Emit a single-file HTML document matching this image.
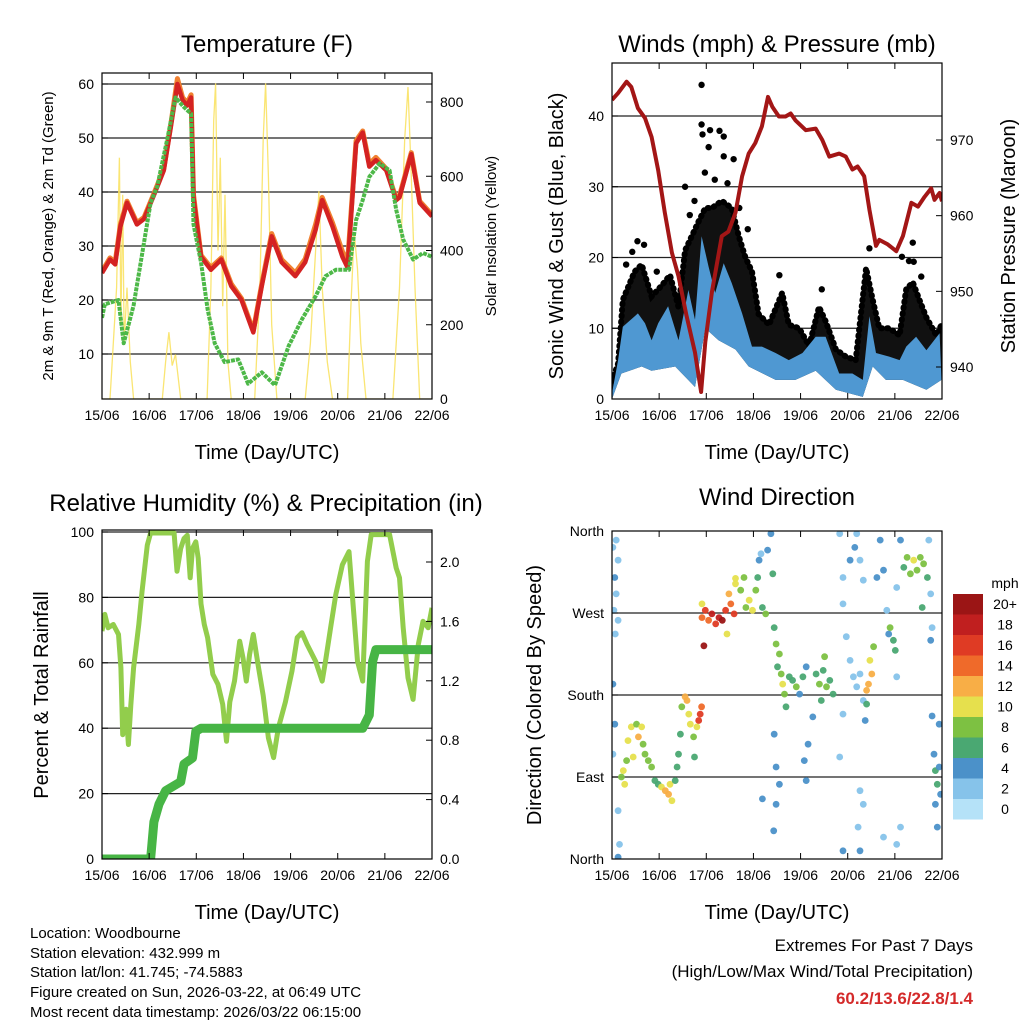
<!DOCTYPE html>
<html><head><meta charset="utf-8"><style>
html,body{margin:0;padding:0;background:#fff}
svg{display:block;font-family:"Liberation Sans",Arial,sans-serif}
</style></head><body>
<svg id="chart" width="1024" height="1024" viewBox="0 0 1024 1024" xmlns="http://www.w3.org/2000/svg">
<defs>
<clipPath id="cT"><rect x="102" y="73" width="330" height="326"/></clipPath>
<clipPath id="cW"><rect x="612" y="63" width="330" height="336"/></clipPath>
<clipPath id="cR"><rect x="102" y="530" width="330" height="329"/></clipPath>
<clipPath id="cD"><rect x="612" y="531" width="330" height="328"/></clipPath>
</defs>
<g id="layer"></g>
<text x="267" y="52" font-size="24" text-anchor="middle">Temperature (F)</text>
<text x="777" y="52" font-size="24" text-anchor="middle">Winds (mph) &amp; Pressure (mb)</text>
<text x="266" y="511" font-size="24" text-anchor="middle">Relative Humidity (%) &amp; Precipitation (in)</text>
<text x="777" y="505" font-size="24" text-anchor="middle">Wind Direction</text>
<text x="267" y="459" font-size="20" text-anchor="middle">Time (Day/UTC)</text>
<text x="777" y="459" font-size="20" text-anchor="middle">Time (Day/UTC)</text>
<text x="267" y="919" font-size="20" text-anchor="middle">Time (Day/UTC)</text>
<text x="777" y="919" font-size="20" text-anchor="middle">Time (Day/UTC)</text>
<text transform="translate(53,236) rotate(-90)" font-size="15" text-anchor="middle">2m &amp; 9m T (Red, Orange) &amp; 2m Td (Green)</text>
<text transform="translate(496,236) rotate(-90)" font-size="15" text-anchor="middle">Solar Insolation (Yellow)</text>
<text transform="translate(563,236) rotate(-90)" font-size="20" text-anchor="middle">Sonic Wind &amp; Gust (Blue, Black)</text>
<text transform="translate(1015,236) rotate(-90)" font-size="20" text-anchor="middle">Station Pressure (Maroon)</text>
<text transform="translate(48,695) rotate(-90)" font-size="20" text-anchor="middle">Percent &amp; Total Rainfall</text>
<text transform="translate(541,695) rotate(-90)" font-size="20" text-anchor="middle">Direction (Colored By Speed)</text>
<g font-size="15">
<text x="30" y="938">Location: Woodbourne</text>
<text x="30" y="958">Station elevation: 432.999 m</text>
<text x="30" y="977">Station lat/lon: 41.745; -74.5883</text>
<text x="30" y="997">Figure created on Sun, 2026-03-22, at 06:49 UTC</text>
<text x="30" y="1017">Most recent data timestamp: 2026/03/22 06:15:00</text>
</g>
<g font-size="17" text-anchor="end">
<text x="973" y="951">Extremes For Past 7 Days</text>
<text x="973" y="977">(High/Low/Max Wind/Total Precipitation)</text>
<text x="973" y="1004" fill="#d42a2a" font-weight="bold">60.2/13.6/22.8/1.4</text>
</g>
<text x="1005" y="588" font-size="14" text-anchor="middle">mph</text>
</svg>
<script>
// ---- Temperature panel data ----
const tempT=[0,.17,.28,.39,.53,.74,.89,1.1,1.31,1.46,1.6,1.71,1.81,1.89,1.94,2.1,2.31,2.53,2.74,2.96,3.21,3.39,3.6,3.81,4.1,4.31,4.53,4.67,4.89,5.1,5.21,5.39,5.53,5.67,5.81,6.03,6.24,6.31,6.56,6.74,7.0];
const tempRed=[25,27.5,26.6,33.6,38,34,35,39.4,44,52,60,57,56,57.5,39,28,25.6,27.5,22.6,20,14,22.6,31.8,27,24.4,27,33,38.5,33.6,28,26,49,51,44.7,45.9,44,38.5,39,47,38,35.5];
const tempOrange=[25.3,27.8,27,34,38.3,34.3,35.3,39.7,44.3,52.5,61,57.5,56.5,58,39.5,28.3,26,27.8,23,20.3,14.3,23,32.3,27.5,25,27.6,34,39,34.3,29,27,49.5,51.3,45.2,46.4,44.3,38.8,39.3,47.3,38.3,35.8];
const dewT=[0,.06,.35,.46,.67,1.03,1.17,1.39,1.56,1.74,1.89,1.94,2.1,2.24,2.39,2.6,2.89,3.1,3.39,3.67,3.96,4.24,4.53,4.74,4.96,5.24,5.39,5.53,5.67,5.89,6.1,6.24,6.39,6.6,6.81,7.0];
const dewVal=[16.7,19.2,20,12,19,38,41,50,57.5,55.7,54.5,34,27,18.3,12,8.5,9,4.5,6.6,4.2,11.5,16.4,20.7,24.4,25.6,25.6,34.8,38.5,42.8,45.3,44,36.7,31.2,27.5,28.7,28];
const solarT=[0,.17,.31,.37,.4,.44,.47,.53,.6,.67,1.28,1.35,1.42,1.49,1.56,1.67,2.23,2.31,2.37,2.41,2.46,2.51,2.56,2.61,2.67,2.74,3.24,3.35,3.42,3.47,3.53,3.6,3.71,4.31,4.42,4.53,4.6,4.67,4.78,4.89,5.21,5.28,5.35,5.42,5.49,5.6,6.17,6.31,6.42,6.49,6.56,6.64,6.74,7.0];
const solarVal=[0,0,300,650,200,550,150,300,100,0,0,100,180,90,120,0,0,300,750,850,400,650,250,550,100,0,0,300,700,850,600,200,0,0,150,400,560,300,100,0,0,250,450,350,150,0,0,300,700,840,600,300,0,0];
const tempTicks=[10,20,30,40,50,60];
const solarTicks=[0,200,400,600,800];
const dayLabels=["15/06","16/06","17/06","18/06","19/06","20/06","21/06","22/06"];
// ---- Winds panel data ----
const presT=[0,.13,.31,.41,.55,.7,.84,.98,1.12,1.27,1.41,1.58,1.76,1.89,1.98,2.12,2.33,2.47,2.62,2.76,2.9,3.04,3.18,3.31,3.4,3.54,3.68,3.79,3.89,4.11,4.32,4.46,4.61,4.82,4.96,5.1,5.21,5.35,5.46,5.6,5.67,5.85,6.03,6.17,6.35,6.49,6.63,6.77,6.84,6.95,7.0];
const presVal=[975.3,976.2,977.7,977,974.2,972.9,970.4,966,960.4,955.1,952,946.8,941.9,936.7,943.3,949.9,957.3,957.9,960.4,965.2,968.2,969.6,971.8,975.7,974.4,973.1,973.1,973.5,972.6,971.3,971.5,970,967.8,968.2,967.8,966.1,966.5,965.2,960.8,956,956.8,956.2,955.3,957.3,961.7,961.2,962.5,963.6,962.1,963,961.9];
const windHiT=[0,.13,.23,.55,.7,.84,.98,1.19,1.41,1.62,1.76,1.9,2.05,2.19,2.37,2.54,2.76,2.97,3.18,3.47,3.75,4.04,4.32,4.53,4.82,5.1,5.32,5.46,5.6,5.88,6.1,6.24,6.45,6.67,6.95];
const windHi=[0.8,5.5,10.2,12.1,10.7,8.3,10.7,13.1,8.3,15.4,11.2,23,18.7,15,19.2,16.4,12.1,7.4,7.4,6.5,5.5,6.5,8.8,8.8,3.6,3.6,2.7,11.7,6.5,6,5.5,7.4,8.8,6.9,9.3];
const windLoT=[0,.2,.63,.84,1.34,1.76,1.98,2.26,2.62,2.9,3.47,3.89,4.32,4.75,5.03,5.32,5.53,5.81,6.17,6.67,6.99];
const windLo=[0,3.6,4.6,4,4.6,1.7,10,8.3,7,4.6,2.7,2.7,4,1.3,0.8,0.3,4.6,2.7,2.7,1.3,2.7];
const gustT=[0,.13,.23,.48,.63,.84,1.05,1.23,1.41,1.55,1.69,1.83,1.98,2.12,2.33,2.54,2.69,2.83,2.97,3.11,3.33,3.61,3.75,3.97,4.18,4.39,4.53,4.75,4.96,5.17,5.39,5.53,5.67,5.88,6.1,6.24,6.38,6.52,6.67,6.88,6.99];
const gustHi=[2.5,5,14,18,19,14.5,16,17.5,13,21,23,25,27,27,28,27,23,20,18,12,10.5,15,10.5,10,7.5,13,11,7,6,5.5,18.5,14,10,10,9,15.5,16.5,14,11.5,9,10.5];
const gustOutT=[1.9,1.9,2.08,2.28,2.37,1.92,2.05,1.55,2.37,2.58,6.38,5.46,6.15,.54,.43,.68,6.4,6.56,1.97,2.18,2.45,2.7,2.88,1.75,1.65,0.3,0.95,3.55,4.45,6.3];
const gustOut=[44.4,38.8,38,37.9,37.1,37.4,35.6,30,34.3,33.9,22.1,21.3,20.1,22.3,20.8,21.8,19.4,17.3,32,31,30.5,27,24,28,26,19,18,17.5,15.5,19.5];
const windTicks=[0,10,20,30,40];
const presTicks=[940,950,960,970];
// ---- RH panel data ----
const rhT=[0,.06,.13,.24,.35,.4,.44,.51,.56,.61,.67,.78,.85,.96,1.03,1.53,1.59,1.67,1.74,1.81,1.87,1.92,1.99,2.04,2.1,2.17,2.24,2.35,2.46,2.56,2.64,2.71,2.81,2.92,2.99,3.06,3.13,3.21,3.31,3.42,3.53,3.64,3.74,3.89,4.03,4.14,4.24,4.35,4.53,4.67,4.74,4.85,4.96,5.1,5.24,5.31,5.42,5.53,5.63,5.71,6.1,6.24,6.31,6.39,6.49,6.6,6.71,6.81,6.92,7.0];
const rhVal=[69.7,74.8,70.7,71.7,68.7,58.5,38,45.8,35,47,58.5,71.7,82,96,99.7,99.7,88,95,98,99,86,95,97,92,78,71.7,67.7,56.5,53.4,47.3,36,48,54.4,66.6,61.5,54.4,62.6,68.7,59.5,50,37,31,40,48,57.5,67.7,69.2,65.6,60.5,54.4,60.5,70.7,80.9,90,94,80.9,60.5,54.4,91,99.2,99.2,89,86,70.7,55.4,48.8,65.6,72.7,70.7,76.8];
const rainT=[0,1.03,1.1,1.21,1.35,1.67,1.74,1.92,1.99,2.1,5.53,5.67,5.74,5.81,7.0];
const rainVal=[0,0,.25,.37,.46,.52,.64,.68,.86,.88,.88,.97,1.33,1.41,1.41];
const rhTicks=[0,20,40,60,80,100];
const rainTicks=[0,.4,.8,1.2,1.6,2.0];
const rainLabels=["0.0","0.4","0.8","1.2","1.6","2.0"];
// ---- Wind direction panel data ----
const dirT=[.02,.09,.13,.06,.09,.04,.13,.07,.02,.06,.02,.13,.16,.13,.2,.24,.27,.31,.34,.41,.45,.52,.56,.63,.66,.7,.77,.84,.91,.98,1.05,1.13,1.2,1.23,1.27,1.34,1.38,1.41,1.45,1.48,1.55,1.59,1.63,1.66,1.73,1.75,1.8,1.84,1.87,1.9,1.91,1.98,2.05,2.12,2.2,2.27,2.34,2.41,2.44,2.52,2.59,1.91,1.95,2.48,2.62,2.62,2.73,2.8,2.84,2.91,2.98,3.05,3.09,3.12,3.16,3.19,3.26,3.3,3.37,3.41,3.44,3.48,3.51,3.55,3.59,3.62,3.66,3.69,3.76,3.83,3.91,3.98,4.05,4.12,3.44,3.48,3.55,3.48,3.19,3.43,4.08,4.12,4.16,4.26,4.33,4.4,4.48,4.55,4.62,4.69,4.51,4.44,4.83,4.9,5.05,5.15,5.19,5.26,5.33,4.9,4.97,5.05,5.12,5.19,5.26,5.33,4.9,4.83,5.26,5.33,5.22,4.9,5.26,5.47,5.51,5.44,5.4,5.4,5.37,5.55,5.62,5.69,5.76,5.83,5.87,5.9,5.97,6.01,6.04,6.04,6.12,6.04,5.76,6.12,6.19,6.26,6.33,6.4,6.47,6.54,6.61,6.69,6.58,6.76,6.79,6.72,6.76,6.83,6.86,6.9,6.94,6.97,6.86,6.79,6.94,6.9];
const dirDeg=[342,350,328,309,291,273,262,247,192,148,115,53,16,2,90,97,82,108,130,145,112,148,134,145,126,115,108,101,86,82,79,75,71,82,64,86,101,115,137,167,178,174,159,148,134,112,145,152,159,167,265,273,262,269,258,265,262,273,247,280,269,280,234,291,302,308,295,309,276,284,273,295,309,328,335,276,269,339,357,313,254,236,211,225,203,192,181,167,200,196,189,181,200,211,137,101,82,60,66,31,108,86,126,156,203,192,207,189,196,181,222,174,357,309,328,342,357,328,306,280,244,218,200,189,203,174,159,112,75,60,35,9,9,218,203,192,185,170,152,233,309,350,317,273,247,254,240,229,200,298,35,16,24,350,320,331,313,328,317,331,324,309,276,291,254,350,240,115,97,82,101,71,60,157,148,35];
const dirSpd=[2,1,2,3,2,1,2,1,3,3,2,2,2,3,7,9,10,7,9,10,9,7,12,9,8,7,8,7,6,6,10,11,12,10,9,6,5,5,5,7,12,11,10,10,8,6,9,15,16,14,14,16,13,18,15,17,19,16,10,14,15,10,22,12,9,10,8,7,8,10,9,7,5,3,2,5,7,4,4,5,5,7,6,8,7,9,7,6,5,6,7,4,5,4,4,4,4,4,4,4,3,4,3,3,6,8,6,7,5,6,7,6,1,2,3,3,1,2,1,2,2,1,2,1,2,1,1,2,2,2,1,4,3,10,11,12,12,6,4,8,3,4,3,2,3,7,6,6,1,2,1,2,2,3,6,8,7,9,8,7,8,6,5,2,2,2,3,4,5,6,3,4,4,3,4,3];
const dirTicks=[0,90,180,270,360];
const dirLabels=["North","East","South","West","North"];
const cbarLevels=[0,2,4,6,8,10,12,14,16,18,20];
const cbarLabels=["0","2","4","6","8","10","12","14","16","18","20+"];
const cbarColors=["#b5e2f8","#86c3ea","#4b91c9","#4aa872","#7dc142","#e6e04d","#f8ae46","#ef6a2a","#df3b24","#c01f1f","#9b1515"];

const NS="http://www.w3.org/2000/svg";
const layer=document.getElementById('layer');
function mk(tag,attrs,parent){const e=document.createElementNS(NS,tag);for(const k in attrs)e.setAttribute(k,attrs[k]);(parent||layer).appendChild(e);return e;}
function txt(x,y,s,size,anchor,parent){const e=mk('text',{x:x,y:y,'font-size':size,'text-anchor':anchor},parent);e.textContent=s;return e;}
function pts(ts,vs,sx,sy){return ts.map((t,i)=>sx(t).toFixed(1)+','+sy(vs[i]).toFixed(1)).join(' ');}

function panel(name,x0,x1,y0,y1,clip){
  const g=mk('g',{});
  
  
  const sx=d=>x0+d*(x1-x0)/7;
  const plot=mk('g',{'clip-path':'url(#'+clip+')'},g);
  
  
  return {g,plot,sx};
}
function xAxis(P,x0,y0,y1){
  for(let d=0;d<=7;d++){
    const x=P.sx(d);
    mk('line',{x1:x,x2:x,y1:y1,y2:y1-6,stroke:'#000','stroke-width':1},P.g);
    mk('line',{x1:x,x2:x,y1:y0,y2:y0+6,stroke:'#000','stroke-width':1},P.g);
    const t=txt(x,y1+21,dayLabels[d],14,'middle',P.g);
    
    
  }
}
function grid(P,x0,x1,ys){ys.forEach(y=>mk('line',{x1:x0,x2:x1,y1:y,y2:y,stroke:'#222','stroke-width':1.2},P.plot));}
function frame(P,x0,x1,y0,y1){const r=mk('rect',{x:x0,y:y0,width:x1-x0,height:y1-y0,fill:'none',stroke:'#000','stroke-width':1.2},P.g);}
function lTicks(P,x0,vals,labels,sy){vals.forEach((v,i)=>{const y=sy(v);mk('line',{x1:x0,x2:x0+6,y1:y,y2:y,stroke:'#000'},P.g);const t=txt(x0-8,y+5,labels[i],14,'end',P.g);});}
function rTicks(P,x1,vals,labels,sy){vals.forEach((v,i)=>{const y=sy(v);mk('line',{x1:x1,x2:x1-6,y1:y,y2:y,stroke:'#000'},P.g);const t=txt(x1+8,y+5,labels[i],14,'start',P.g);});}

// ===== Temperature =====
(function(){
  const x0=102,x1=432,y0=73,y1=399;
  const P=panel('temperature-panel',x0,x1,y0,y1,'cT');
  const yL=v=>408-v*5.4, yR=v=>399-v*297/800;
  grid(P,x0,x1,tempTicks.map(yL));
  let e=mk('polyline',{points:pts(solarT,solarVal,P.sx,yR),fill:'none',stroke:'#f9e05a','stroke-width':1.3,opacity:0.85},P.plot);
  
  e=mk('polyline',{points:pts(tempT,tempOrange,P.sx,yL),fill:'none',stroke:'#f08030','stroke-width':5,'stroke-linejoin':'round'},P.plot);
  
  e=mk('polyline',{points:pts(tempT,tempRed,P.sx,yL),fill:'none',stroke:'#d42222','stroke-width':4.5,'stroke-linejoin':'round'},P.plot);
  
  e=mk('polyline',{points:pts(dewT,dewVal,P.sx,yL),fill:'none',stroke:'#4db848','stroke-width':4,'stroke-dasharray':'4 1','stroke-linejoin':'round'},P.plot);
  
  frame(P,x0,x1,y0,y1);xAxis(P,x0,y0,y1);
  lTicks(P,x0,tempTicks,tempTicks.map(String),yL);
  rTicks(P,x1,solarTicks,solarTicks.map(String),yR);
})();

// ===== Winds =====
(function(){
  const x0=612,x1=942,y0=63,y1=399;
  const P=panel('winds-panel',x0,x1,y0,y1,'cW');
  const yL=v=>399-v*7.075, yR=p=>140-(p-970)*7.567;
  grid(P,x0,x1,windTicks.slice(1).map(yL));
  const lo=windLoT.map((t,i)=>P.sx(t).toFixed(1)+','+yL(windLo[i]).toFixed(1)).reverse().join(' ');
  let e=mk('polygon',{points:pts(gustT,gustHi,P.sx,yL)+' '+lo,fill:'#111'},P.plot);
  
  e=mk('polyline',{points:pts(gustT,gustHi,P.sx,yL),fill:'none',stroke:'#000','stroke-width':6,'stroke-dasharray':'1 5','stroke-linecap':'round'},P.plot);
  
  gustOutT.forEach((t,i)=>{const c=mk('circle',{cx:P.sx(t),cy:yL(gustOut[i]),r:3.2,fill:'#000'},P.plot);});
  e=mk('polygon',{points:pts(windHiT,windHi,P.sx,yL)+' '+lo,fill:'#4f98d2'},P.plot);
  
  e=mk('polyline',{points:pts(presT,presVal,P.sx,yR),fill:'none',stroke:'#a31616','stroke-width':4,'stroke-linejoin':'round'},P.plot);
  
  frame(P,x0,x1,y0,y1);xAxis(P,x0,y0,y1);
  lTicks(P,x0,windTicks,windTicks.map(String),yL);
  rTicks(P,x1,presTicks,presTicks.map(String),yR);
})();

// ===== RH =====
(function(){
  const x0=102,x1=432,y0=530,y1=859;
  const P=panel('humidity-panel',x0,x1,y0,y1,'cR');
  const yL=v=>859-v*3.27, yR=p=>859-p*148.5;
  grid(P,x0,x1,rhTicks.slice(1).map(yL));
  let e=mk('polyline',{points:pts(rhT,rhVal,P.sx,yL),fill:'none',stroke:'#92cd4c','stroke-width':5,'stroke-linejoin':'round'},P.plot);
  
  e=mk('polyline',{points:pts(rainT,rainVal,P.sx,yR),fill:'none',stroke:'#47b545','stroke-width':9,'stroke-linejoin':'round','stroke-linecap':'round'},P.plot);
  
  frame(P,x0,x1,y0,y1);xAxis(P,x0,y0,y1);
  lTicks(P,x0,rhTicks,rhTicks.map(String),yL);
  rTicks(P,x1,rainTicks,rainLabels,yR);
})();

// ===== Wind Direction =====
(function(){
  const x0=612,x1=942,y0=531,y1=859;
  const P=panel('wind-direction-panel',x0,x1,y0,y1,'cD');
  const yD=d=>859-d*328/360;
  grid(P,x0,x1,[90,180,270].map(yD));
  const col=s=>{let k=Math.min(10,Math.max(0,Math.round(s/2)));return cbarColors[k];};
  dirT.forEach((t,i)=>{
    const c=mk('circle',{cx:P.sx(t).toFixed(1),cy:yD(dirDeg[i]).toFixed(1),r:3.4,fill:col(dirSpd[i]),opacity:0.95},P.plot);
    
    
  });
  frame(P,x0,x1,y0,y1);xAxis(P,x0,y0,y1);
  lTicks(P,x0,dirTicks,dirLabels,yD);
  const cb=mk('g',{});
  
  
  cbarLevels.forEach((lv,i)=>{
    const yy=799-i*20.5;
    const r=mk('rect',{x:953,y:yy,width:30,height:20.5,fill:cbarColors[i]},cb);
    
    
    const t=txt(1005,yy+15,cbarLabels[i],14,'middle',cb);
    
    
  });
})();
</script>
</body></html>
